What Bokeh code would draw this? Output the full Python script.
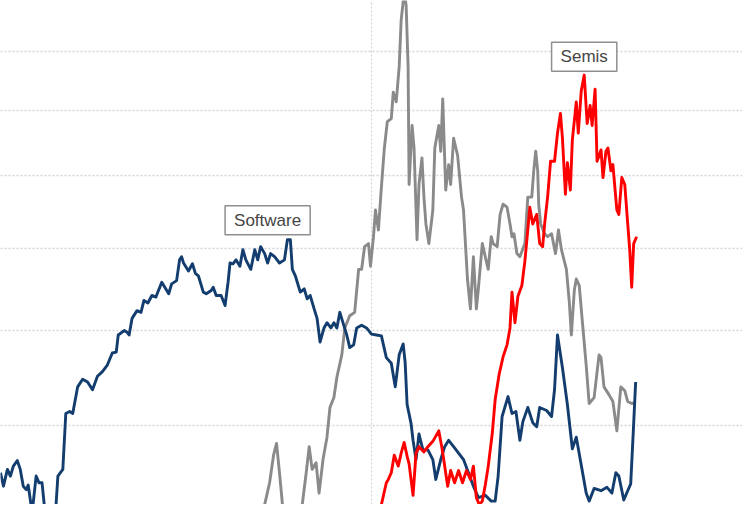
from bokeh.plotting import figure
from bokeh.models import Range1d, FixedTicker, Label
from bokeh.embed import file_html
from bokeh.resources import INLINE

# ---- data (x = period index, y = relative level on a log scale) ----
software_x = [0, 3, 7, 10, 13, 17, 20, 23, 26, 28, 32, 36, 39, 42, 45, 50, 56, 58, 63, 66,
              70, 73, 78, 83, 88, 93, 98, 103, 108, 113, 117, 119, 125, 128, 130, 133, 138, 142, 145, 149,
              153, 157, 163, 167, 170, 173, 178, 181, 183, 185, 190, 194, 197, 200, 205, 208, 213, 215, 218, 223,
              227, 230, 232, 235, 238, 242, 245, 248, 253, 257, 260, 263, 267, 270, 273, 277, 282, 287, 290, 293,
              295, 298, 303, 307, 310, 313, 317, 320, 323, 327, 330, 334, 337, 340, 343, 347, 350, 353, 357, 360,
              365, 370, 375, 380, 385, 390, 395, 399, 403, 407, 409, 411, 415, 417, 420, 423, 427, 432, 437, 440,
              445, 449, 453, 458, 463, 468, 473, 478, 483, 490, 496, 500, 503, 507, 513, 517, 521, 525, 528, 533,
              538, 542, 545, 552, 557, 560, 563, 568, 573, 578, 582, 587, 592, 595, 600, 607, 613, 618, 622, 625,
              630, 633, 637, 640, 642]
software_y = [55.6, 54.4, 55.9, 55.3, 56.2, 56.7, 55.9, 54.4, 54.1, 54.5, 52.1, 55.3, 54.7, 54.7, 52.1, 51.5, 52.6, 55.3, 55.9, 61.2,
              61.4, 61.2, 63.9, 64.7, 64.4, 63.6, 65.0, 65.5, 66.2, 67.5, 67.6, 69.5, 70.0, 69.8, 69.5, 71.4, 72.3, 72.1, 73.5, 73.2,
              74.1, 73.9, 75.7, 74.9, 74.3, 75.5, 75.9, 78.5, 78.9, 78.1, 77.1, 78.0, 76.8, 76.5, 74.5, 74.3, 74.7, 75.1, 74.1, 74.1,
              72.9, 75.7, 78.1, 78.0, 78.5, 77.7, 79.8, 78.5, 77.3, 79.8, 78.5, 80.2, 79.3, 78.1, 79.3, 78.9, 78.1, 78.5, 81.1, 81.1,
              77.3, 76.5, 74.5, 74.9, 73.7, 74.1, 72.5, 71.4, 68.7, 70.3, 70.9, 70.3, 70.9, 70.3, 72.1, 70.6, 69.5, 68.1, 68.4, 70.3,
              70.6, 70.3, 69.6, 69.5, 69.4, 67.0, 66.4, 63.9, 67.3, 68.5, 66.5, 62.1, 60.2, 58.6, 56.8, 59.2, 57.7, 57.7, 56.8, 55.0,
              56.8, 58.0, 58.6, 58.0, 57.4, 56.8, 55.6, 54.4, 53.4, 53.6, 53.1, 53.1, 55.3, 60.9, 62.9, 61.2, 61.4, 58.6, 60.4, 61.8,
              60.3, 59.9, 61.8, 61.5, 60.9, 63.6, 69.5, 65.9, 62.1, 57.8, 58.9, 56.3, 53.8, 53.1, 54.2, 54.0, 54.3, 53.8, 55.6, 55.3,
              53.2, 53.8, 54.6, 60.2, 64.4]

other_x = [265, 267, 272, 276, 279, 282, 285, 290, 300, 305, 309, 312, 315, 319, 322, 326, 330, 333, 337, 340,
           345, 348, 353, 358, 362, 365, 368, 372, 374, 377, 379, 382, 385, 388, 391, 395, 397, 400, 403, 405,
           408, 410, 412, 413, 416, 418, 421, 423, 426, 428, 430, 433, 437, 439, 443, 445, 447, 450, 453, 455,
           458, 462, 466, 468, 472, 475, 478, 481, 483, 487, 490, 493, 496, 498, 502, 505, 508, 512, 515, 517,
           519, 522, 525, 530, 533, 537, 539, 541, 543, 544, 546, 550, 553, 557, 561, 564, 567, 572, 575, 577,
           580, 582, 585, 588, 592, 595, 600, 605, 607, 610, 615, 619, 623, 627, 631, 634, 638, 642]
other_y = [51.7, 52.8, 54.7, 57.2, 58.3, 55.6, 52.8, 51.3, 51.3, 52.8, 55.6, 58.0, 55.9, 56.5, 53.8, 56.8, 58.9, 61.8, 62.8, 64.9,
           67.3, 70.3, 71.7, 72.1, 77.3, 77.3, 80.2, 80.6, 77.7, 81.5, 85.1, 82.4, 88.3, 94.1, 98.2, 98.7, 103.0, 101.4, 107.4, 115.8,
           121.0, 118.6, 107.4, 88.7, 97.6, 94.1, 81.1, 88.7, 92.6, 86.9, 83.2, 80.6, 85.1, 94.1, 97.6, 93.6, 101.9, 87.9, 91.6, 88.7,
           95.6, 93.0, 86.9, 85.1, 76.1, 72.5, 78.9, 72.5, 74.9, 80.6, 78.9, 77.3, 81.5, 80.6, 80.2, 84.5, 85.9, 85.5, 83.2, 81.5,
           81.9, 79.3, 78.9, 80.6, 86.9, 86.9, 90.7, 93.6, 90.7, 85.9, 83.2, 81.9, 81.5, 81.9, 79.3, 82.4, 79.8, 77.3, 73.2, 69.5,
           74.7, 76.1, 75.3, 71.2, 66.2, 62.2, 62.8, 67.3, 67.0, 63.9, 63.1, 62.4, 59.5, 63.9, 63.5, 62.4, 62.2, 62.3]

semis_x = [383, 385, 390, 392, 395, 398, 402, 405, 408, 411, 413, 417, 420, 423, 428, 432, 437, 443, 446, 448,
           452, 455, 459, 463, 467, 471, 475, 478, 481, 484, 487, 490, 493, 497, 500, 504, 508, 512, 515, 517,
           520, 523, 527, 530, 533, 535, 538, 542, 545, 548, 550, 553, 556, 560, 563, 566, 568, 571, 573, 576,
           578, 582, 584, 587, 590, 593, 596, 598, 601, 603, 607, 609, 612, 614, 617, 619, 623, 625, 628, 631,
           634, 636, 638, 640, 643]
semis_y = [52.1, 52.8, 54.7, 55.0, 55.6, 57.2, 56.2, 57.4, 58.4, 57.1, 56.4, 53.6, 57.4, 58.0, 57.5, 58.0, 58.5, 59.5, 58.0, 56.8,
           54.4, 55.8, 54.7, 55.8, 54.7, 55.8, 55.0, 56.2, 53.4, 52.8, 53.1, 54.5, 56.2, 59.2, 62.6, 65.2, 67.1, 68.4, 70.3, 74.5,
           70.9, 74.0, 75.3, 78.3, 82.4, 85.5, 83.2, 84.5, 80.6, 80.2, 83.2, 86.9, 92.1, 92.1, 96.4, 99.5, 95.6, 87.3, 91.9, 87.9,
           95.3, 101.4, 96.4, 103.2, 105.9, 97.9, 100.8, 97.6, 103.5, 92.1, 93.8, 89.7, 93.6, 94.1, 90.7, 91.6, 85.1, 84.5, 89.7, 88.7,
           83.2, 79.8, 75.1, 80.6, 81.5]

grid_levels = [60, 70, 80, 90, 100, 110, 120]
marker_x = [375]

labels = ["Software", "Semis"]
label_x = [270, 590]
label_y = [83.7, 109.1]

# ---- figure ----
p = figure(width=742, height=504, output_backend="svg", toolbar_location=None,
           x_range=Range1d(0, 750), y_range=Range1d(52.81, 119.5),
           y_axis_type="log", min_border=0)
p.xaxis.visible = False
p.yaxis.visible = False
p.outline_line_color = None
p.background_fill_color = "white"
p.border_fill_color = "white"

p.ygrid.ticker = FixedTicker(ticks=grid_levels)
p.ygrid.grid_line_color = "#d4d4d4"
p.ygrid.grid_line_dash = "2 2"
p.ygrid.grid_line_width = 1.5
p.xgrid.ticker = FixedTicker(ticks=marker_x)
p.xgrid.grid_line_color = "#d4d4d4"
p.xgrid.grid_line_dash = "2 2"
p.xgrid.grid_line_width = 1.2

p.line(other_x, other_y, line_color="#8a8a8a", line_width=2.9, line_join="round")
p.line(software_x, software_y, line_color="#123d6e", line_width=2.9, line_join="round")
p.line(semis_x, semis_y, line_color="#ff0000", line_width=2.9, line_join="round")

for t, lx, ly in zip(labels, label_x, label_y):
    p.add_layout(Label(x=lx, y=ly, text=t, text_align="center", text_baseline="middle",
                       text_font="Liberation Sans", text_font_size="17px", text_color="#454545",
                       border_line_color="#8f8f8f", border_line_width=1.5,
                       background_fill_color="white",
                       padding=dict(left=9, right=9, top=5, bottom=5)))

open("out.html", "w").write(file_html(p, INLINE))
